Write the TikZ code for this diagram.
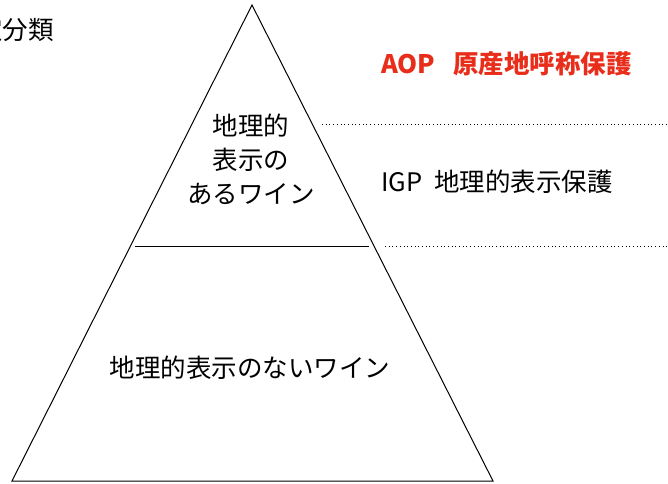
\documentclass[tikz,border=0pt]{standalone}
\usepackage{fontspec}
\setmainfont{Noto Sans CJK JP}
\definecolor{aopred}{RGB}{232,46,26}

\begin{document}
\begin{tikzpicture}[x=1pt, y=-1pt, every node/.style={font=\fontsize{25.5}{34}\selectfont, inner sep=0pt}]
    % Frame of the picture
    \useasboundingbox (0,0) rectangle (668,483);
    \clip (0,0) rectangle (668,483);

    % Corners of the pyramid
    \coordinate (apex) at (252,5);
    \coordinate (baseL) at (12,481);
    \coordinate (baseR) at (493,481);
    \coordinate (divL) at (135,246);
    \coordinate (divR) at (369,246);

    % Draw the pyramid
    \draw[line width=1pt] (apex) -- (baseL) -- (baseR) -- cycle;
    \draw[line width=1pt] (divL) -- (divR); % Dividing line

    % Dotted guide lines
    \coordinate (topS) at (322,124);
    \coordinate (topE) at (668,124);
    \coordinate (midS) at (385,246);
    \coordinate (midE) at (668,246);
    \draw[line width=1pt, dash pattern=on 1pt off 2.7pt] (topS) -- (topE);
    \draw[line width=1pt, dash pattern=on 1pt off 2.7pt] (midS) -- (midE);

    % Text inside the pyramid
    \node[align=center] (upper) at (251,159) {地理的\\表示の\\あるワイン};
    \node (lower) at (250,368) {地理的表示のないワイン};

    % Labels on the right
    \node[anchor=west, text=aopred, font=\fontsize{25.5}{34}\selectfont\bfseries] (aop) at (381,64) {AOP\hspace{18pt}原産地呼称保護};
    \node[anchor=west] (igp) at (381,182) {IGP\hspace{12pt}地理的表示保護};

    % Title (cut off at the left edge)
    \node[anchor=east] (title) at (54,30) {規定分類};
\end{tikzpicture}
\end{document}
